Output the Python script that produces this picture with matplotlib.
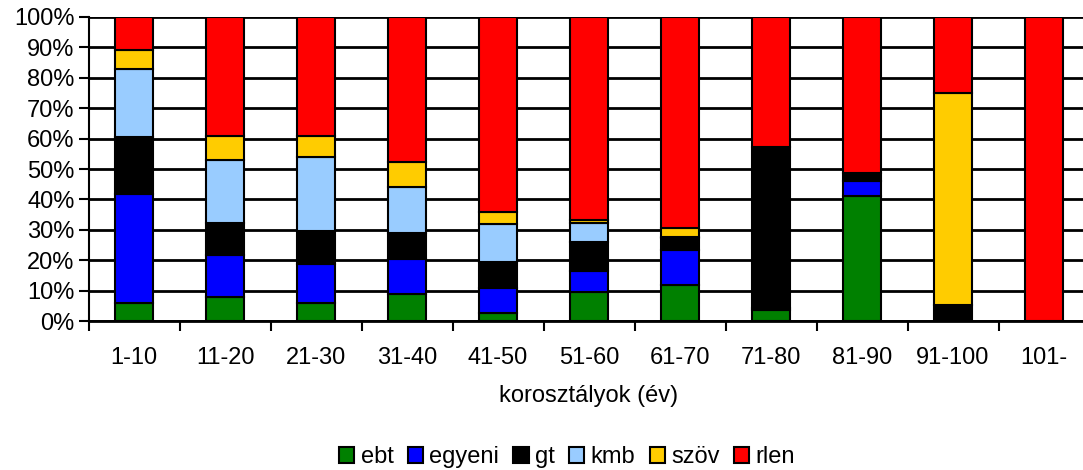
import numpy as np
import matplotlib.pyplot as plt
from matplotlib.ticker import PercentFormatter, MultipleLocator

plt.rcParams['font.family'] = ['Liberation Sans', 'DejaVu Sans']

# ------------------------------
# Daten (Anteile in %)
# ------------------------------
categories = ['1-10', '11-20', '21-30', '31-40', '41-50', '51-60',
              '61-70', '71-80', '81-90', '91-100', '101-']
ebt    = [6.0, 7.9, 6.0, 8.8, 2.7, 9.7, 11.9, 3.6, 41.2, 0.0, 0.0]
egyeni = [35.8, 13.7, 12.7, 11.5, 8.1, 6.8, 11.5, 0.6, 4.7, 0.0, 0.0]
gt     = [18.6, 10.8, 10.8, 8.6, 8.6, 9.4, 3.8, 53.2, 2.7, 5.3, 0.0]
kmb    = [22.6, 20.6, 24.3, 15.3, 12.5, 6.5, 0.3, 0.0, 0.0, 0.0, 0.0]
szov   = [6.2, 8.0, 7.2, 8.0, 4.1, 0.9, 3.0, 0.0, 0.0, 69.7, 0.0]
rlen   = [10.8, 39.0, 39.0, 47.8, 64.0, 66.7, 69.5, 42.6, 51.4, 25.0, 100.0]

series = [('ebt', ebt, '#008000'), ('egyeni', egyeni, '#0000ff'),
          ('gt', gt, '#000000'), ('kmb', kmb, '#99ccff'),
          ('szöv', szov, '#ffcc00'), ('rlen', rlen, '#ff0000')]

# ------------------------------
# Plot
# ------------------------------
fig = plt.figure(figsize=(10.83, 4.70), dpi=100)
ax = fig.add_axes([88.5 / 1083, 149 / 470, 1001 / 1083, 304 / 470])

x = np.arange(len(categories))
bottom = np.zeros(len(categories))
for name, vals, col in series:
    vals = np.array(vals)
    ax.bar(x, vals, 0.41, bottom=bottom, color=col, edgecolor='black',
           linewidth=1.5, label=name, zorder=3)
    bottom += vals

ax.set_xlim(-0.5, len(categories) - 0.5)
ax.set_ylim(0, 100)
ax.yaxis.set_major_locator(MultipleLocator(10))
ax.yaxis.set_major_formatter(PercentFormatter(decimals=0))
ax.grid(axis='y', color='black', linewidth=2, zorder=0)

ax.set_xticks(x)
ax.set_xticklabels(categories)
ax.set_xticks(np.arange(-0.5, len(categories)), minor=True)
ax.tick_params(axis='x', which='major', length=0, pad=19, labelsize=17)
ax.tick_params(axis='x', which='minor', length=7, width=1.5, direction='out')
ax.tick_params(axis='y', length=7, width=1.5, labelsize=17, pad=3)

for s in ['top', 'right']:
    ax.spines[s].set_visible(False)
ax.spines['left'].set_linewidth(1.5)
ax.spines['bottom'].set_linewidth(2)

ax.set_xlabel('korosztályok (év)', fontsize=17, labelpad=11)

fig.legend(loc='center', bbox_to_anchor=(567 / 1083, 0.027), ncol=6,
           frameon=False, fontsize=17, handlelength=0.65, handleheight=0.65,
           handletextpad=0.27, columnspacing=0.6, borderpad=0)

plt.savefig('out.png', dpi=100)
